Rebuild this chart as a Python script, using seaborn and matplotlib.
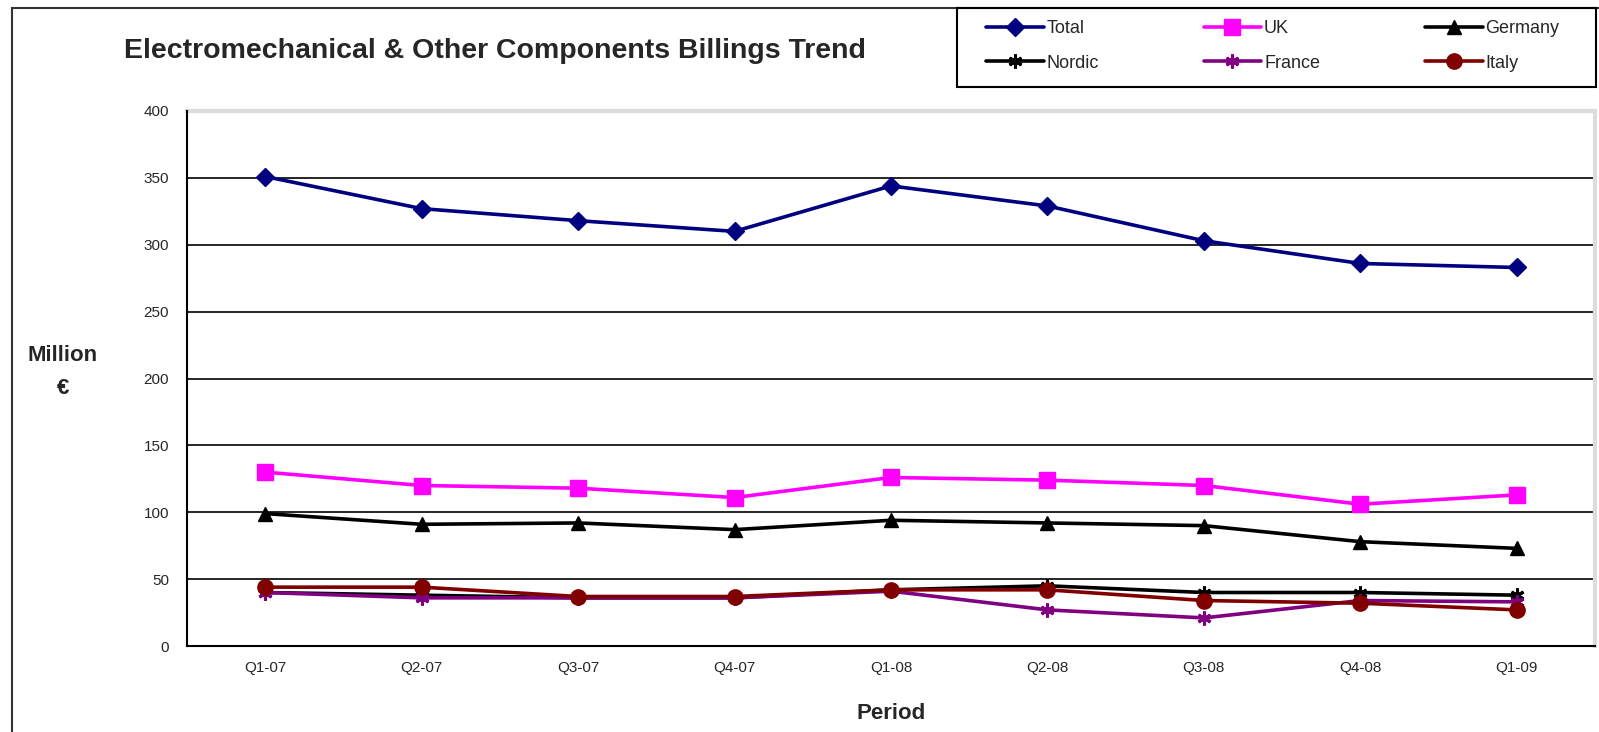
import matplotlib
matplotlib.use("Agg")
import matplotlib.pyplot as plt
import seaborn as sns
import pandas as pd
from matplotlib.patches import Rectangle
from matplotlib.lines import Line2D

quarters = ["Q1-07", "Q2-07", "Q3-07", "Q4-07", "Q1-08", "Q2-08", "Q3-08", "Q4-08", "Q1-09"]
total = [351, 327, 318, 310, 344, 329, 303, 286, 283]
uk = [130, 120, 118, 111, 126, 124, 120, 106, 113]
germany = [99, 91, 92, 87, 94, 92, 90, 78, 73]
nordic = [40, 38, 36, 36, 42, 45, 40, 40, 38]
france = [40, 36, 36, 36, 41, 27, 21, 34, 33]
italy = [44, 44, 37, 37, 42, 42, 34, 32, 27]

series = [
    ("Total", total, "#000080", "D", 9),
    ("UK", uk, "#FF00FF", "s", 11),
    ("Germany", germany, "#000000", "^", 10),
    ("Nordic", nordic, "#000000", (6, 2, 0), 10),
    ("France", france, "#800080", (6, 2, 0), 10),
    ("Italy", italy, "#800000", "o", 11),
]

sns.set_style("white")
plt.rcParams["font.family"] = ["Liberation Sans", "DejaVu Sans"]

W, H = 1599, 732
fig = plt.figure(figsize=(W / 100, H / 100), dpi=100)
ax = fig.add_axes([187 / W, 1 - 646 / H, (1595 - 187) / W, (646 - 111) / H])

for name, vals, color, marker, ms in series:
    df = pd.DataFrame({"quarter": quarters, "value": vals})
    sns.lineplot(data=df, x="quarter", y="value", ax=ax, color=color, marker=marker,
                 markersize=ms, markeredgecolor=color,
                 markeredgewidth=2.2 if isinstance(marker, tuple) else 1,
                 linewidth=2.6, sort=False, zorder=3)

ax.set_ylim(0, 400)
ax.set_xlim(-0.5, len(quarters) - 0.5)
ax.set_yticks(range(0, 401, 50))
for y in range(50, 400, 50):
    ax.axhline(y, color="#000000", linewidth=1.2, zorder=1)

ax.set_xticks(range(len(quarters)))
ax.set_xticklabels(quarters, fontsize=11)
ax.set_xticks([i - 0.5 for i in range(len(quarters) + 1)], minor=True)
ax.tick_params(axis="x", which="major", length=0, pad=11)
ax.tick_params(axis="x", which="minor", length=6, width=1.2, color="black", direction="out")
ax.tick_params(axis="y", length=6, width=1.2, color="black", direction="out", labelsize=11, pad=7)

for side in ("left", "bottom"):
    ax.spines[side].set_color("black")
    ax.spines[side].set_linewidth(1.5)
for side in ("top", "right"):
    ax.spines[side].set_color("#dcdcdc")
    ax.spines[side].set_linewidth(3)
ax.spines["left"].set_zorder(4)

ax.set_xlabel("Period", fontsize=16, fontweight="bold", labelpad=20)
ax.set_ylabel("")
fig.text(63 / W, 1 - 372 / H, "Million\n€", fontsize=16, fontweight="bold", ha="center",
         va="center", linespacing=1.7)

fig.text(124 / W, 1 - 51 / H, "Electromechanical & Other Components Billings Trend",
         fontsize=20.5, fontweight="bold", ha="left", va="center")

# outer chart frame
fig.patches.append(Rectangle((12 / W, -0.05), 1.2, 1.05 - 8 / H, transform=fig.transFigure,
                             fill=False, edgecolor="#333333", linewidth=1.5))

# legend box
fig.patches.append(Rectangle((957 / W, 1 - 87 / H), (1596 - 957) / W, (87 - 8) / H,
                             transform=fig.transFigure, fill=False, edgecolor="black",
                             linewidth=1.5, zorder=5))

handles = [Line2D([], [], color=c, marker=m, markersize=ms, markeredgecolor=c,
                  markeredgewidth=2.2 if isinstance(m, tuple) else 1, linewidth=2.6)
           for _, _, c, m, ms in series]
labels = [s[0] for s in series]
order = [0, 3, 1, 4, 2, 5]
leg = fig.legend([handles[i] for i in order], [labels[i] for i in order], ncol=3,
                 loc="center left", bbox_to_anchor=(986 / W, 1 - 46 / H),
                 fontsize=13, frameon=False, borderpad=0, borderaxespad=0,
                 handlelength=3.2, handletextpad=0.15, columnspacing=5.8,
                 labelspacing=0.95)

fig.savefig("out.png", dpi=100)
